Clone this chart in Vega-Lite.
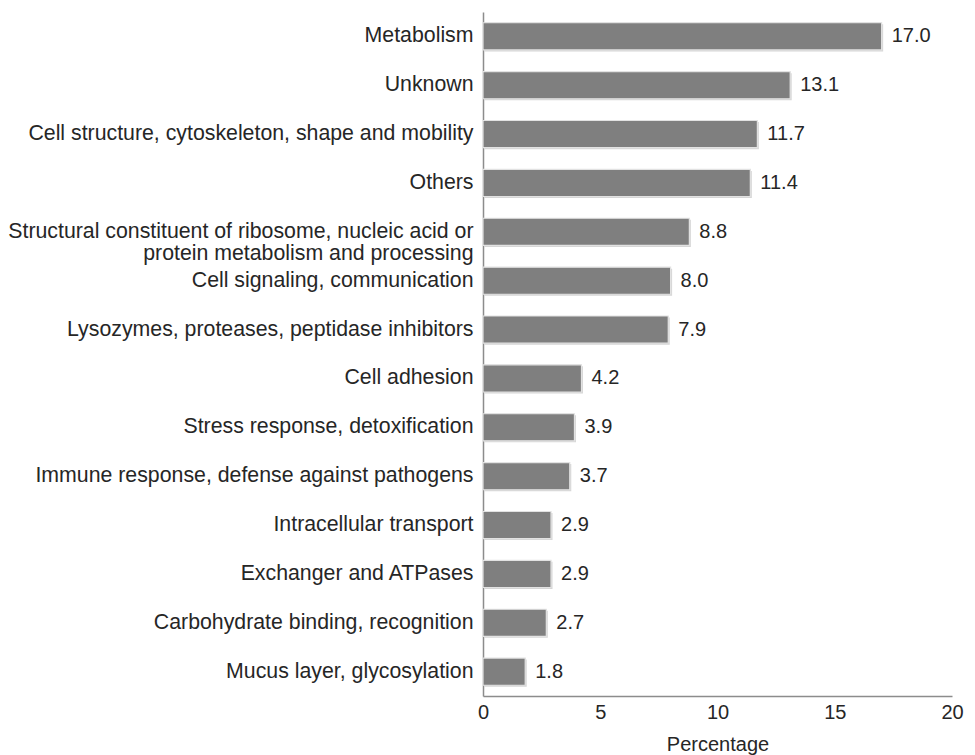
{
  "$schema": "https://vega.github.io/schema/vega-lite/v6.json",
  "width": 469,
  "height": 684,
  "autosize": {"type": "none"},
  "padding": {"left": 483, "top": 12, "right": 23, "bottom": 59},
  "background": "white",
  "config": {
    "view": {"stroke": null},
    "font": "Liberation Sans",
    "axis": {"grid": false, "ticks": false, "domainColor": "#8c8c8c", "domainWidth": 1.5, "labelColor": "#262626", "labelFontSize": 20, "titleColor": "#262626", "titleFontSize": 20, "titleFontWeight": "normal", "labelFont": "Liberation Sans", "titleFont": "Liberation Sans"}
  },
  "data": {
    "values": [
      {"category": "Metabolism", "value": 17.0},
      {"category": "Unknown", "value": 13.1},
      {"category": "Cell structure, cytoskeleton, shape and mobility", "value": 11.7},
      {"category": "Others", "value": 11.4},
      {"category": "Structural constituent of ribosome, nucleic acid or|protein metabolism and processing", "value": 8.8},
      {"category": "Cell signaling, communication", "value": 8.0},
      {"category": "Lysozymes, proteases, peptidase inhibitors", "value": 7.9},
      {"category": "Cell adhesion", "value": 4.2},
      {"category": "Stress response, detoxification", "value": 3.9},
      {"category": "Immune response, defense against pathogens", "value": 3.7},
      {"category": "Intracellular transport", "value": 2.9},
      {"category": "Exchanger and ATPases", "value": 2.9},
      {"category": "Carbohydrate binding, recognition", "value": 2.7},
      {"category": "Mucus layer, glycosylation", "value": 1.8}
    ]
  },
  "encoding": {
    "y": {"field": "category", "type": "nominal", "sort": null,
      "scale": {"paddingInner": 0.445, "paddingOuter": 0.22},
      "axis": {"title": null, "labelPadding": 10, "labelFontSize": 21.3, "labelExpr": "split(datum.label, '|')", "labelLineHeight": 22.5, "labelLimit": 480}},
    "x": {"field": "value", "type": "quantitative",
      "scale": {"domain": [0, 20], "nice": false},
      "axis": {"title": "Percentage", "values": [0, 5, 10, 15, 20], "labelPadding": 6, "titlePadding": 12, "labelFlush": false}}
  },
  "layer": [
    {"mark": {"type": "bar", "color": "#c4c4c4", "opacity": 0.7, "xOffset": 1.5, "yOffset": 1.5}},
    {"mark": {"type": "bar", "color": "#7f7f7f", "stroke": "#e2e2e2", "strokeWidth": 1.2}},
    {"mark": {"type": "text", "align": "left", "baseline": "middle", "dx": 10, "fontSize": 20, "color": "#262626", "font": "Liberation Sans"},
      "encoding": {"text": {"field": "value", "type": "quantitative", "format": ".1f"}}}
  ]
}
